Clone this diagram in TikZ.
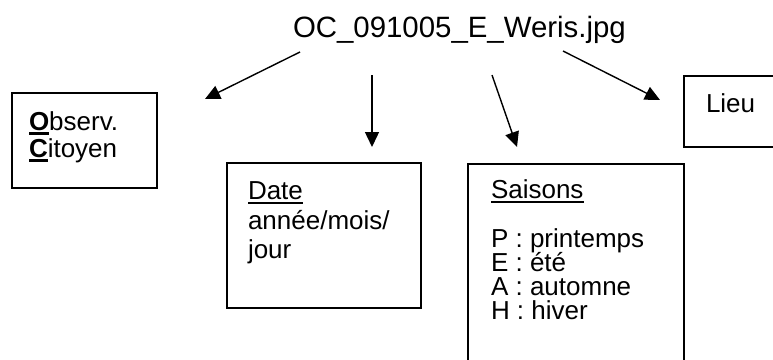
\documentclass[tikz,border=0pt]{standalone}
\usepackage{fontspec}
\setmainfont{Liberation Sans}
\usetikzlibrary{arrows.meta}
\newcommand\myul[3]{\setbox0\hbox{#3}\rlap{\rule[#1]{\wd0}{#2}}\box0}
\tikzset{
  box/.style={draw=black, line width=1.4pt, rectangle, inner sep=0pt, outer sep=0pt, anchor=north west},
  txt/.style={anchor=base west, inner sep=0pt, outer sep=0pt, font=\fontsize{26}{30}\selectfont},
  arr/.style={line width=1.4pt, -{Triangle[length=15pt,width=14pt]}},
}
\begin{document}
\begin{tikzpicture}[x=1pt,y=-1pt]
\useasboundingbox (0,0) rectangle (773,359);
\clip (0,0) rectangle (773,359);
\fill[white] (0,0) rectangle (773,359);
% title
\node[txt, font=\fontsize{29.4}{33}\selectfont] (title) at (293,37) {OC\_091005\_E\_Weris.jpg};
% boxes
\node[box, minimum width=145pt, minimum height=95pt] (obs) at (12,93) {};
\node[box, minimum width=194pt, minimum height=145pt] (date) at (227,163) {};
\node[box, minimum width=216pt, minimum height=240pt] (sais) at (468,164) {};
\node[box, minimum width=120pt, minimum height=71pt] (lieu) at (684,76) {};
% texts
\node[txt] (t1) at (29,130) {\myul{-4.5pt}{3pt}{\textbf{O}}bserv.};
\node[txt] (t2) at (29,157) {\myul{-4.5pt}{3pt}{\textbf{C}}itoyen};
\node[txt] (t3) at (248,199) {\myul{-5pt}{2pt}{Date}};
\node[txt] (t4) at (248,229) {année/mois/};
\node[txt] (t5) at (248,258) {jour};
\node[txt] (t6) at (491,198) {\myul{-5pt}{2pt}{Saisons}};
\node[txt] (t7) at (491,247) {P : printemps};
\node[txt] (t8) at (491,271) {E : été};
\node[txt] (t9) at (491,295) {A : automne};
\node[txt] (t10) at (491,319) {H : hiver};
\node[txt] (t11) at (706,112) {Lieu};
% arrow ends
\coordinate (a1s) at (300,52);
\coordinate (a1e) at (205,99);
\coordinate (a2s) at (372,75);
\coordinate (a2e) at (372,147);
\coordinate (a3s) at (492,75);
\coordinate (a3e) at (517,147);
\coordinate (a4s) at (563,51);
\coordinate (a4e) at (660,100);
\draw[arr] (a1s) -- (a1e);
\draw[arr] (a2s) -- (a2e);
\draw[arr] (a3s) -- (a3e);
\draw[arr] (a4s) -- (a4e);
\end{tikzpicture}
\end{document}
